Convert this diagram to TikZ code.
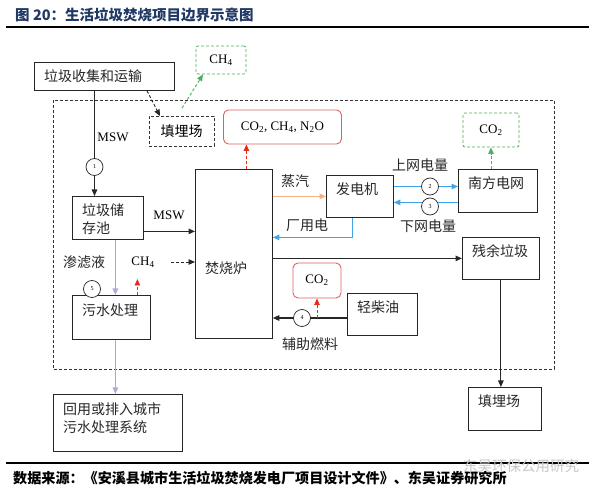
\documentclass[tikz,border=0pt]{standalone}
\usepackage{fontspec}
\setmainfont{Liberation Serif}
\newfontfamily\cjk{Noto Sans CJK SC}
\usetikzlibrary{arrows.meta,calc}
\definecolor{navy}{HTML}{203864}
\definecolor{gdash}{HTML}{4DAF5B}
\definecolor{rline}{HTML}{E06060}
\definecolor{rdash}{HTML}{E8291C}
\definecolor{steam}{HTML}{F4B183}
\definecolor{elec}{HTML}{3DA5E8}
\definecolor{lav}{HTML}{B4A7D6}
\newcommand{\zh}{\cjk\fontsize{14}{17.5}\selectfont}
\newcommand{\sbs}[1]{\textsubscript{#1}}
\tikzset{
  box/.style={draw=black!85, line width=0.8pt, inner sep=0pt, anchor=north west},
  boxtext/.style={anchor=north west, inner sep=0pt, xshift=10pt, yshift=-7.5pt, align=left, text=black!85, font=\zh},
  dbox/.style={draw=black!80, line width=0.8pt, dash pattern=on 3pt off 2pt, inner sep=0pt, font=\zh},
  gbox/.style={draw=gdash, line width=0.8pt, dash pattern=on 3pt off 2pt, rounded corners=2pt, inner sep=0pt},
  rbox/.style={draw=rline, line width=0.9pt, rounded corners=5pt, inner sep=0pt},
  num/.style={circle, draw=black!85, fill=white, line width=0.7pt, minimum size=17pt, inner sep=0pt, font=\fontsize{6}{7}\selectfont},
  zhlbl/.style={inner sep=1pt, text=black!85, font=\zh},
  flow/.style={draw=black!85, line width=1.1pt, ->},
  dflow/.style={draw=black!85, line width=0.9pt, dash pattern=on 3pt off 2pt, ->},
  gflow/.style={draw=gdash, line width=0.9pt, dash pattern=on 3pt off 2pt, ->},
  redflow/.style={draw=rdash, line width=0.9pt, dash pattern=on 3pt off 2pt, ->},
  steamline/.style={draw=steam, line width=1.1pt, ->},
  elecline/.style={draw=elec, line width=1.1pt, ->},
  lavline/.style={draw=lav, line width=1.1pt, ->},
}
\begin{document}
\begin{tikzpicture}[x=1pt, y=-1pt, font=\fontsize{13}{16}\selectfont, >={Triangle[length=6.5pt,width=5.5pt]}]
  \useasboundingbox (0,0) rectangle (600,494);

  % header and footer
  \node[anchor=west, inner sep=0pt, text=navy, font=\cjk\bfseries\fontsize{14.5}{16}\selectfont] (title) at (15,15) {图 20：生活垃圾焚烧项目边界示意图};
  \draw[line width=1.4pt] (6,27) -- (589,27);
  \draw[line width=1.2pt] (6,463) -- (589,463);
  \node[anchor=west, inner sep=0pt, font=\cjk\bfseries\fontsize{14.1}{16}\selectfont] (source) at (13,478) {数据来源：《安溪县城市生活垃圾焚烧发电厂项目设计文件》、东吴证券研究所};
  \node[anchor=west, inner sep=0pt, text=black!22, font=\cjk\fontsize{14.5}{16}\selectfont] (wmark) at (463,466) {东吴环保公用研究};

  % project boundary
  \draw[black!80, line width=0.9pt, dash pattern=on 3pt off 2pt] (53,100) rectangle (554,369);

  % boxes
  \node[box, minimum width=140pt, minimum height=28pt, label={[boxtext]north west:垃圾收集和运输}] (collect) at (34,62) {};
  \node[dbox, minimum width=65pt, minimum height=30pt] (landA) at (181.5,131.5) {填埋场};
  \node[gbox, minimum width=50pt, minimum height=28pt] (ch4top) at (221,60) {CH\sbs{4}};
  \node[rbox, minimum width=118pt, minimum height=34pt] (emis) at (282.5,127) {CO\sbs{2}, CH\sbs{4}, N\sbs{2}O};
  \node[gbox, minimum width=56pt, minimum height=34pt] (co2top) at (491,130) {CO\sbs{2}};
  \node[box, minimum width=71pt, minimum height=43pt, label={[boxtext]north west:垃圾储\\存池}] (pit) at (72,196) {};
  \node[box, minimum width=77pt, minimum height=169pt, label={[boxtext, yshift=-85pt]north west:焚烧炉}] (furnace) at (195,169) {};
  \node[box, minimum width=67pt, minimum height=42pt, label={[boxtext]north west:发电机}] (gen) at (326,175) {};
  \node[box, minimum width=79pt, minimum height=43pt, label={[boxtext]north west:南方电网}] (grid) at (458,169) {};
  \node[box, minimum width=77pt, minimum height=42pt, label={[boxtext]north west:残余垃圾}] (resid) at (462,237) {};
  \node[box, minimum width=70pt, minimum height=42pt, label={[boxtext]north west:轻柴油}] (diesel) at (347,293) {};
  \node[rbox, minimum width=48pt, minimum height=35pt] (co2low) at (317,280.5) {CO\sbs{2}};
  \node[box, minimum width=78pt, minimum height=44pt, label={[boxtext, yshift=-1pt]north west:污水处理}] (sewage) at (72,295) {};
  \node[box, minimum width=129pt, minimum height=57pt, label={[boxtext, yshift=-1pt]north west:回用或排入城市\\污水处理系统}] (reuse) at (53,394) {};
  \node[box, minimum width=73pt, minimum height=43pt, label={[boxtext]north west:填埋场}] (landB) at (468,387) {};

  % labels
  \node[inner sep=1pt] (msw1) at (113,137) {MSW};
  \node[inner sep=1pt] (msw2) at (169,215) {MSW};
  \node[inner sep=1pt] (ch4l) at (143,262) {CH\sbs{4}};
  \node[zhlbl] (leach) at (84,262) {渗滤液};
  \node[zhlbl] (steamlbl) at (295,181) {蒸汽};
  \node[zhlbl] (pwrlbl) at (307,225) {厂用电};
  \node[zhlbl] (uplbl) at (420,165) {上网电量};
  \node[zhlbl] (dnlbl) at (428,226) {下网电量};
  \node[zhlbl] (auxlbl) at (310,344) {辅助燃料};

  % connectors
  \coordinate (p1) at (94.5,167);
  \coordinate (p2) at (430,186.5);
  \coordinate (p3) at (430,206.5);
  \coordinate (p4) at (302,318);
  \coordinate (p5) at (92,289);
  \draw[flow] (collect.south -| p1) -- (p1 |- pit.north);
  \draw[dflow] ([xshift=113pt]collect.south west) -- ([xshift=-21.5pt]landA.north);
  \draw[gflow] ([xshift=0.5pt, yshift=8pt]landA.north) -- ([xshift=-18pt]ch4top.south);
  \coordinate (fe) at ([xshift=12.5pt]furnace.north);
  \draw[redflow] (fe) -- (fe |- emis.south);
  \draw[gflow] (grid.north -| co2top) -- (co2top.south);
  \draw[steamline] (furnace.east |- gen.west) -- (gen.west);
  \coordinate (pw) at ([xshift=-7.5pt]gen.south);
  \draw[elecline] (pw) |- ([yshift=16.5pt]furnace.east);
  \draw[elecline] (gen.east |- p2) -- (grid.west |- p2);
  \coordinate (dn) at ([yshift=-11.5pt]grid.west);
  \draw[elecline] (dn) -- (dn -| gen.east);
  \draw[flow] (furnace.east |- resid.west) -- (resid.west);
  \draw[flow] (resid.south) -- (resid.south |- landB.north);
  \draw[flow] (diesel.west |- p4) -- (furnace.east |- p4);
  \draw[redflow] (co2low.south |- p4) -- (co2low.south);
  \coordinate (m2) at ([yshift=-13.5pt]pit.east);
  \draw[flow] (m2) -- (m2 -| furnace.west);
  \draw[dflow] ([xshift=15pt]ch4l.east) -- (ch4l -| furnace.west);
  \coordinate (swup) at ([xshift=26pt]sewage.north);
  \draw[redflow] (swup) -- ++(0,-16);
  \coordinate (lq) at ([xshift=7.5pt]pit.south);
  \draw[lavline] (lq) -- (lq |- sewage.north);
  \draw[lavline] (lq |- sewage.south) -- (lq |- reuse.north);

  % numbered points
  \node[num] (n1) at (p1) {1};
  \node[num] (n2) at (p2) {2};
  \node[num] (n3) at (p3) {3};
  \node[num] (n4) at (p4) {4};
  \node[num] (n5) at (p5) {5};
\end{tikzpicture}
\end{document}
